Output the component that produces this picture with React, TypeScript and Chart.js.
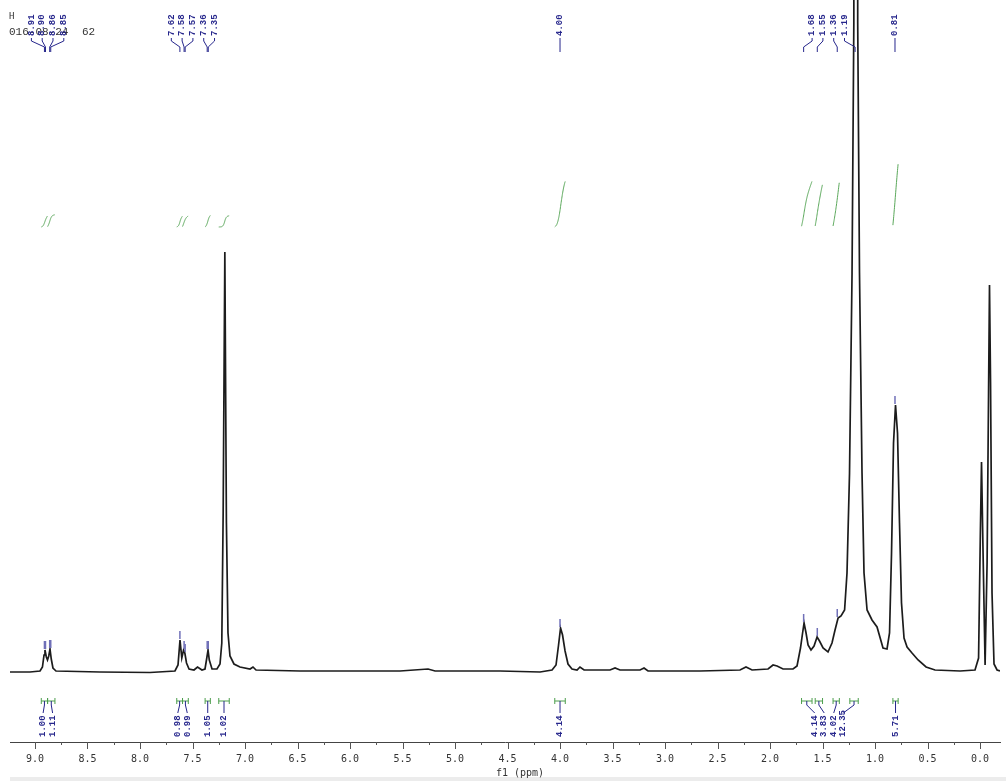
import React, { useEffect, useRef } from 'react';
import { Chart, registerables } from 'chart.js';
Chart.register(...registerables);

// Chemical shift (ppm) and intensity (arbitrary units)
const shiftPpm = [
  9.238, 9.048, 8.952, 8.929, 8.914, 8.905, 8.892, 8.881, 8.869, 8.857, 8.845, 8.829, 8.8, 8.381,
  7.905, 7.667, 7.638, 7.619, 7.602, 7.585, 7.573, 7.557, 7.533, 7.486, 7.452, 7.41, 7.381, 7.367,
  7.352, 7.34, 7.314, 7.267, 7.238, 7.221, 7.208, 7.192, 7.177, 7.162, 7.143, 7.105,
  7.048, 6.952, 6.924, 6.895, 6.476, 6.0, 5.524, 5.257, 5.19, 4.571, 4.19, 4.076, 4.038, 4.014,
  3.995, 3.976, 3.952, 3.924, 3.886, 3.838, 3.81, 3.771, 3.524, 3.476, 3.429, 3.238, 3.2, 3.162,
  2.667, 2.286, 2.229, 2.171, 2.019, 1.971, 1.933, 1.876, 1.781, 1.743, 1.71, 1.69, 1.676, 1.657,
  1.638, 1.61, 1.581, 1.552, 1.529, 1.495, 1.448, 1.41, 1.381, 1.352, 1.324, 1.29, 1.267, 1.243,
  1.219, 1.202, 1.181, 1.165, 1.148, 1.124, 1.105, 1.076, 1.029, 0.981, 0.924, 0.886, 0.862, 0.843,
  0.824, 0.805, 0.786, 0.767, 0.748, 0.724, 0.695, 0.648, 0.59, 0.514, 0.429, 0.19, 0.048, 0.014,
  -0.003, -0.014, -0.027, -0.048, -0.067, -0.081, -0.09, -0.1, -0.114, -0.133, -0.162, -0.19,
];
const intensity = [
  1, 1, 2, 6, 18, 23, 16, 13, 17, 24, 14, 5, 2, 1,
  0.5, 2, 8, 33, 15, 23, 20, 10, 4, 3, 6, 3, 4, 13,
  23, 13, 4, 4, 9, 30, 160, 421, 150, 40, 17, 9,
  6, 4, 6, 3, 2, 2, 2, 4, 2, 2, 1, 3, 8, 28,
  45, 38, 22, 9, 4, 3, 6, 3, 3, 5, 3, 3, 5, 2,
  2, 3, 6, 3, 4, 8, 7, 4, 4, 7, 25, 40, 50, 40,
  28, 23, 27, 36, 32, 25, 21, 30, 43, 55, 57, 63, 100, 200,
  400, 650, 5000, 650, 400, 200, 100, 63, 53, 46, 25, 24, 40, 120,
  230, 268, 240, 150, 70, 35, 26, 20, 13, 6, 3, 2, 3, 15,
  140, 211, 130, 8, 110, 280, 388, 290, 80, 9, 3, 2,
];

// Axis
const xMin = -0.19;
const xMax = 9.238;
const majorTickValues = [9, 8.5, 8, 7.5, 7, 6.5, 6, 5.5, 5, 4.5, 4, 3.5, 3, 2.5, 2, 1.5, 1, 0.5, 0];
const majorTickLabels = ['9.0', '8.5', '8.0', '7.5', '7.0', '6.5', '6.0', '5.5', '5.0', '4.5', '4.0', '3.5', '3.0', '2.5', '2.0', '1.5', '1.0', '0.5', '0.0'];
const minorTickValues = [8.75, 8.25, 7.75, 7.25, 6.75, 6.25, 5.75, 5.25, 4.75, 4.25, 3.75, 3.25, 2.75, 2.25, 1.75, 1.25, 0.75, 0.25];
const axisTitle = 'f1 (ppm)';

// Peak picking labels
const peakLabels = ['8.91', '8.90', '8.86', '8.85', '7.62', '7.58', '7.57', '7.36', '7.35', '4.00', '1.68', '1.55', '1.36', '1.19', '0.81'];
const peakGroups = [0, 0, 0, 0, 1, 1, 1, 1, 1, 2, 3, 3, 3, 3, 4];

// Integrations
const integFrom = [8.94, 8.88, 7.65, 7.595, 7.38, 7.25, 4.05, 1.70, 1.57, 1.40, 1.24, 0.83];
const integTo = [8.88, 8.81, 7.595, 7.54, 7.33, 7.15, 3.95, 1.60, 1.50, 1.34, 1.16, 0.78];
const integLabels = ['1.00', '1.11', '0.98', '0.99', '1.05', '1.02', '4.14', '4.14', '3.83', '4.02', '12.35', '5.71'];
const integGroups = [0, 0, 1, 1, 2, 3, 4, 5, 5, 5, 5, 6];

const headerLine1 = 'H';
const headerLine2 = '016-08-24';
const headerLine3 = '62';

const BLUE = '#26268c';
const GREEN = '#4d9e4d';

function interp(p: number): number {
  for (let i = 0; i < shiftPpm.length - 1; i++) {
    const a = shiftPpm[i], b = shiftPpm[i + 1];
    if (p <= a && p >= b) {
      const t = (a - p) / (a - b);
      return intensity[i] + t * (intensity[i + 1] - intensity[i]);
    }
  }
  return 0;
}

function spread(centers: number[], groups: number[], gap: number): number[] {
  const out = new Array(centers.length).fill(0);
  const map = new Map<number, number[]>();
  groups.forEach((g, i) => {
    if (!map.has(g)) map.set(g, []);
    map.get(g)!.push(i);
  });
  map.forEach((idx) => {
    const mean = idx.reduce((s, i) => s + centers[i], 0) / idx.length;
    idx.forEach((i, k) => {
      out[i] = mean + (k - (idx.length - 1) / 2) * gap;
    });
  });
  return out;
}

export default function App() {
  const ref = useRef<HTMLCanvasElement>(null);
  useEffect(() => {
    const canvas = ref.current!;
    const annot = {
      id: 'annot',
      beforeDraw(chart: any) {
        const ctx = chart.ctx;
        ctx.save();
        ctx.fillStyle = '#ffffff';
        ctx.fillRect(0, 0, chart.width, chart.height);
        ctx.fillStyle = '#ececec';
        ctx.fillRect(10, 777, chart.width - 10, 4);
        ctx.restore();
      },
      afterDraw(chart: any) {
        const ctx = chart.ctx;
        const xs = chart.scales.x;
        const ys = chart.scales.y;
        const px = (p: number) => xs.getPixelForValue(p);
        const py = (v: number) => ys.getPixelForValue(v);
        const axisY = chart.chartArea.bottom;
        ctx.save();

        // axis tick marks
        ctx.strokeStyle = '#555';
        ctx.lineWidth = 1;
        ctx.beginPath();
        majorTickValues.forEach((v) => {
          const x = Math.round(px(v)) + 0.5;
          ctx.moveTo(x, axisY);
          ctx.lineTo(x, axisY + 7);
        });
        minorTickValues.forEach((v) => {
          const x = Math.round(px(v)) + 0.5;
          ctx.moveTo(x, axisY);
          ctx.lineTo(x, axisY + 3);
        });
        ctx.stroke();

        // header text
        ctx.fillStyle = '#333';
        ctx.font = '9px "DejaVu Sans Mono"';
        ctx.textBaseline = 'alphabetic';
        ctx.textAlign = 'left';
        ctx.fillText(headerLine1, 9, 19);
        ctx.font = '11px "Liberation Mono"';
        ctx.fillText(headerLine2, 9, 35);
        ctx.fillText(headerLine3, 82, 35);

        // peak labels
        const peakVals = peakLabels.map((s) => parseFloat(s));
        const peakX = peakVals.map(px);
        const labelX = spread(peakX, peakGroups, 10.8);
        ctx.strokeStyle = BLUE;
        ctx.fillStyle = BLUE;
        ctx.lineWidth = 1;
        ctx.font = 'bold 9px "Liberation Mono"';
        peakLabels.forEach((lab, i) => {
          const lx = labelX[i];
          ctx.save();
          ctx.translate(lx, 36);
          ctx.rotate(-Math.PI / 2);
          ctx.textAlign = 'left';
          ctx.textBaseline = 'middle';
          ctx.fillText(lab, 0, 0);
          ctx.restore();
          ctx.beginPath();
          ctx.moveTo(lx, 38);
          ctx.lineTo(lx, 41);
          ctx.lineTo(peakX[i], 47);
          ctx.lineTo(peakX[i], 52);
          ctx.stroke();
          // small tick on peak top
          let m = interp(peakVals[i]);
          for (let k = 0; k < shiftPpm.length; k++) {
            if (Math.abs(shiftPpm[k] - peakVals[i]) < 0.013) m = Math.max(m, intensity[k]);
          }
          const yTop = py(m);
          if (yTop > 60) {
            ctx.save();
            ctx.strokeStyle = '#7070b8';
            ctx.lineWidth = 1.5;
            ctx.beginPath();
            ctx.moveTo(peakX[i], yTop - 9);
            ctx.lineTo(peakX[i], yTop - 1);
            ctx.stroke();
            ctx.restore();
          }
        });

        // integral curves (top)
        ctx.strokeStyle = '#5aa85a';
        ctx.lineWidth = 1;
        integFrom.forEach((f, i) => {
          const val = parseFloat(integLabels[i]);
          if (val > 10) return;
          const x1 = px(f), x2 = px(integTo[i]);
          const step = 0.2;
          const vals: number[] = [];
          let total = 0;
          for (let x = x1; x <= x2; x += step) {
            const v = Math.max(0, interp(xs.getValueForPixel(x)) - 2);
            total += v;
            vals.push(total);
          }
          const h = val * 11;
          const yb = 227;
          ctx.beginPath();
          vals.forEach((c, k) => {
            const x = x1 + k * step;
            const y = yb - (total > 0 ? c / total : 0) * h;
            if (k === 0) ctx.moveTo(x, y);
            else ctx.lineTo(x, y);
          });
          ctx.stroke();
        });

        // integration brackets and labels (bottom)
        const centers = integFrom.map((f, i) => (px(f) + px(integTo[i])) / 2);
        const ilx = spread(centers, integGroups, 9.5);
        integFrom.forEach((f, i) => {
          const x1 = px(f), x2 = px(integTo[i]);
          ctx.strokeStyle = GREEN;
          ctx.beginPath();
          ctx.moveTo(x1, 698);
          ctx.lineTo(x1, 704);
          ctx.moveTo(x1, 701);
          ctx.lineTo(x2, 701);
          ctx.moveTo(x2, 698);
          ctx.lineTo(x2, 704);
          ctx.stroke();
          ctx.strokeStyle = BLUE;
          ctx.beginPath();
          ctx.moveTo(centers[i], 701);
          ctx.lineTo(centers[i], 705);
          ctx.lineTo(ilx[i], 713);
          ctx.stroke();
          ctx.save();
          ctx.fillStyle = BLUE;
          ctx.translate(ilx[i], 737);
          ctx.rotate(-Math.PI / 2);
          ctx.textAlign = 'left';
          ctx.textBaseline = 'middle';
          ctx.fillText(integLabels[i], 0, 0);
          ctx.restore();
        });

        ctx.restore();
      },
    };

    const chart = new Chart(canvas, {
      type: 'line',
      data: {
        datasets: [
          {
            data: shiftPpm.map((x, i) => ({ x, y: intensity[i] })),
            borderColor: '#1c1c1c',
            borderWidth: 1.7,
            pointRadius: 0,
            tension: 0,
            fill: false,
          },
        ],
      },
      options: {
        animation: false,
        responsive: false,
        events: [],
        layout: { padding: { left: 10, right: 6, top: 0, bottom: 0 } },
        plugins: { legend: { display: false }, tooltip: { enabled: false } },
        scales: {
          x: {
            type: 'linear',
            reverse: true,
            min: xMin,
            max: xMax,
            afterBuildTicks: (s: any) => {
              s.ticks = majorTickValues.map((v) => ({ value: v }));
            },
            afterFit: (s: any) => {
              s.height = 39;
            },
            grid: { display: false, drawTicks: false },
            border: { display: true, color: '#444', width: 1 },
            ticks: {
              autoSkip: false,
              maxRotation: 0,
              minRotation: 0,
              padding: 11,
              color: '#333',
              font: { family: '"DejaVu Sans Mono"', size: 10 },
              callback: (_v: any, idx: number) => majorTickLabels[idx],
            },
            title: {
              display: true,
              text: '     ' + axisTitle,
              color: '#333',
              font: { family: '"DejaVu Sans Mono"', size: 10 },
              padding: { top: 0, bottom: 2 },
            },
          },
          y: { display: false, min: -69, max: 673 },
        },
      } as any,
      plugins: [annot],
    });
    return () => chart.destroy();
  }, []);
  return (
    <div style={{ position: 'absolute', left: 0, top: 0, width: 1006, height: 781, background: '#fff' }}>
      <canvas ref={ref} width={1006} height={781} style={{ display: 'block' }} />
    </div>
  );
}
